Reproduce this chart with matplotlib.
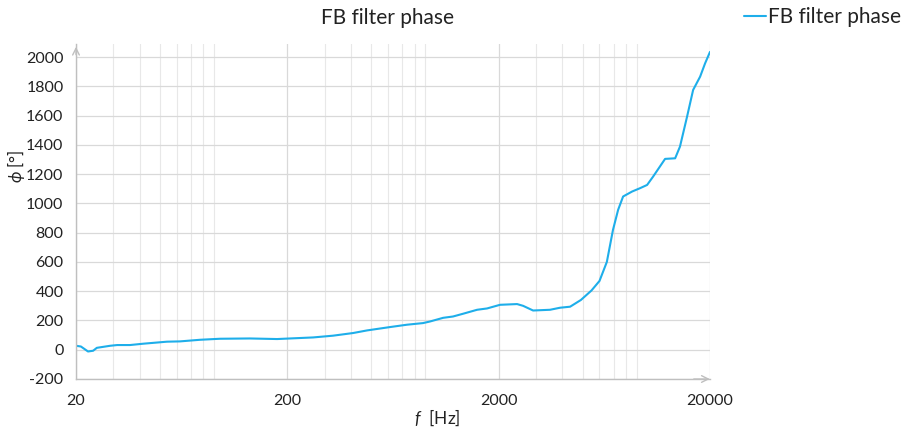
import matplotlib
matplotlib.use("Agg")
import matplotlib.pyplot as plt
from matplotlib.ticker import FixedLocator, NullFormatter, LogLocator

freq = [20, 21.1, 22.8, 24.1, 25.1, 29.0, 31.3, 36.0, 41.5, 53.9, 62.1, 77.3, 96,
        133, 179, 206, 265, 329, 409, 477, 613, 737, 877, 947, 1092, 1216, 1358,
        1581, 1762, 2030, 2444, 2610, 2910, 3500, 3904, 4356, 4900, 5500, 6000,
        6500, 6950, 7350, 7760, 8560, 9340, 10080, 10760, 12260, 13680, 14420,
        15580, 16640, 17960, 18960, 20000]
phase = [27, 22, -12, -7, 13, 27, 32, 32, 41, 55, 57, 68, 75,
         77, 73, 77, 84, 96, 114, 132, 155, 171, 182, 193, 218, 227, 246,
         273, 282, 307, 312, 300, 268, 273, 287, 294, 340, 405, 470,
         600, 819, 956, 1047, 1081, 1104, 1126, 1183, 1304, 1308, 1388,
         1593, 1775, 1866, 1957, 2035]

x_ticks = [20, 200, 2000, 20000]
x_tick_labels = ["20", "200", "2000", "20000"]
y_ticks = list(range(-200, 2001, 200))

title = "FB filter phase"
series_name = "FB filter phase"

plt.rcParams['font.family'] = ['Lato', 'DejaVu Sans']
plt.rcParams['axes.unicode_minus'] = False
plt.rcParams['mathtext.fontset'] = 'custom'
plt.rcParams['mathtext.it'] = 'Lato:italic'
plt.rcParams['mathtext.rm'] = 'Lato'

fig = plt.figure(figsize=(9.12, 4.30), dpi=100)
ax = fig.add_axes([76/912, 1-379/430, (710-76)/912, (379-44)/430])

line_color = "#1EAEEA"
ax.plot(freq, phase, color=line_color, lw=1.5, label=series_name,
        solid_joinstyle='round', solid_capstyle='round')

ax.set_xscale('log')
ax.set_xlim(20, 20000)
ax.set_ylim(-200, 2089)

ax.xaxis.set_major_locator(FixedLocator(x_ticks))
ax.set_xticklabels(x_tick_labels)
ax.xaxis.set_minor_locator(LogLocator(base=10, subs=range(2, 10)))
ax.xaxis.set_minor_formatter(NullFormatter())
ax.set_yticks(y_ticks)

ax.grid(which='major', axis='both', color='#d9d9d9', lw=0.9)
ax.grid(which='minor', axis='x', color='#e8e8e8', lw=0.8)
ax.set_axisbelow(True)

for s in ['top', 'right']:
    ax.spines[s].set_visible(False)
for s in ['left', 'bottom']:
    ax.spines[s].set_color('#bfbfbf')
    ax.spines[s].set_linewidth(1.0)

ax.tick_params(which='both', length=0, labelsize=11.5, colors='#222222')
ax.tick_params(axis='y', pad=9)
ax.tick_params(axis='x', pad=11)

# axis arrows
ax.annotate('', xy=(1.004, 0), xytext=(0.97, 0), xycoords='axes fraction',
            arrowprops=dict(arrowstyle='->', color='#bfbfbf', lw=1.0,
                            mutation_scale=12), annotation_clip=False)
ax.annotate('', xy=(0, 1.0), xytext=(0, 0.96), xycoords='axes fraction',
            arrowprops=dict(arrowstyle='->', color='#bfbfbf', lw=1.0,
                            mutation_scale=12), annotation_clip=False)

fig.text(388/912, 1-18/430, title, ha='center', va='center', fontsize=15, color='#222222')

fig.text(437/912, 1-418/430, r"$f$  [Hz]", ha='center', va='center', fontsize=12.5, color='#222222')
fig.text(16/912, 1-166/430, r"$\phi$ $[°]$", ha='center', va='center', rotation=90,
         fontsize=12, color='#222222')

leg = fig.legend(loc='center left', bbox_to_anchor=(744/912, 1-17/430), frameon=False,
                 fontsize=15, handlelength=1.05, handletextpad=0.1, borderaxespad=0,
                 borderpad=0)
for t in leg.get_texts():
    t.set_color('#222222')

fig.savefig("out.png", dpi=100)
